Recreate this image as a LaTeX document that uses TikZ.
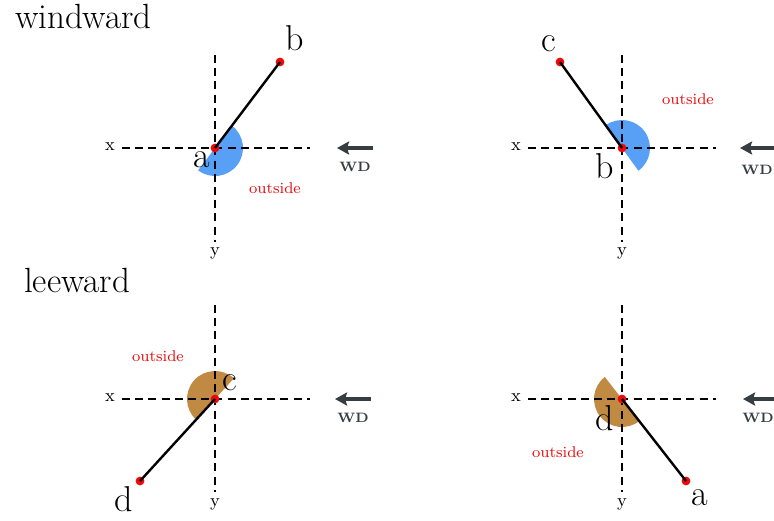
\documentclass[tikz,border=0pt]{standalone}
\usetikzlibrary{arrows.meta,positioning}
\definecolor{windblue}{RGB}{88,160,245}
\definecolor{leebrown}{RGB}{192,138,66}
\definecolor{wdgray}{RGB}{55,62,66}
\definecolor{outred}{RGB}{235,10,10}

\begin{document}
\begin{tikzpicture}[x=0.5pt,y=-0.5pt,
  dot/.style={circle,fill=outred,inner sep=0pt,minimum size=4.4pt},
  axis/.style={line width=0.7pt,dash pattern=on 4pt off 2.6pt},
  wall/.style={line width=1.2pt},
  corner/.style={font=\fontsize{18}{18}\selectfont},
  axlbl/.style={font=\fontsize{9}{9}\selectfont},
  outlbl/.style={text=outred,font=\fontsize{7.8}{8}\selectfont},
  wdlbl/.style={text=wdgray,font=\fontsize{6.8}{7}\selectfont\bfseries},
  wdarrow/.style={-{Stealth[length=6pt,width=6.5pt,inset=1pt]},draw=wdgray,line width=2pt},
  title/.style={font=\fontsize{17.5}{18}\selectfont,anchor=base west}]
  \clip (0,0) rectangle (774,520);
  % titles
  \node[title] (tw) at (8,28) {windward};
  \node[title] (tl) at (17,292) {leeward};
  % windward, wall a-b
  \fill[windblue] (215,148) -- ++(-52.9:28) arc[start angle=-52.9,end angle=127.1,radius=28] -- cycle;
  \draw[axis] (122,148) -- (310,148) (215,55) -- (215,242);
  \node[dot] (a1) at (215,148) {};
  \node[dot] (b1) at (280,62) {};
  \draw[wall] (a1.center) -- (b1.center);
  \node[corner] (la1) at (202,160) {a};
  \node[corner] (lb1) at (295,38) {b};
  \node[axlbl] (x1) at (110,147) {x};
  \node[axlbl] (y1) at (215,253) {y};
  \node[outlbl] (o1) at (275,188) {outside};
  \coordinate (w1) at (337,148);
  \draw[wdarrow] (373,148) -- (w1);
  \node[wdlbl] (wd1) at (355,167) {WD};
  % windward, wall b-c
  \fill[windblue] (622,148) -- ++(-125.8:28) arc[start angle=-125.8,end angle=54.2,radius=28] -- cycle;
  \draw[axis] (528,148) -- (716,148) (622,55) -- (622,242);
  \node[dot] (b2) at (622,148) {};
  \node[dot] (c2) at (560,62) {};
  \draw[wall] (b2.center) -- (c2.center);
  \node[corner] (lb2) at (605,166) {b};
  \node[corner] (lc2) at (549,44) {c};
  \node[axlbl] (x2) at (516,147) {x};
  \node[axlbl] (y2) at (622,253) {y};
  \node[outlbl] (o2) at (688,99) {outside};
  \coordinate (w2) at (740,148);
  \draw[wdarrow] (780,148) -- (w2);
  \node[wdlbl] (wd2) at (757,170) {WD};
  % leeward, wall c-d
  \fill[leebrown] (215,399) -- ++(-47.6:28) arc[start angle=-47.6,end angle=-227.6,radius=28] -- cycle;
  \draw[axis] (122,399) -- (310,399) (215,305) -- (215,492);
  \node[dot] (c3) at (215,399) {};
  \node[dot] (d3) at (140,481) {};
  \draw[wall] (c3.center) -- (d3.center);
  \node[corner] (lc3) at (230,383) {c};
  \node[corner] (ld3) at (124,499) {d};
  \node[axlbl] (x3) at (110,398) {x};
  \node[axlbl] (y3) at (215,504) {y};
  \node[outlbl] (o3) at (158,356) {outside};
  \coordinate (w3) at (335,399);
  \draw[wdarrow] (371,399) -- (w3);
  \node[wdlbl] (wd3) at (353,418) {WD};
  % leeward, wall d-a
  \fill[leebrown] (622,399) -- ++(-128:28) arc[start angle=-128,end angle=-308,radius=28] -- cycle;
  \draw[axis] (528,399) -- (716,399) (622,305) -- (622,492);
  \node[dot] (d4) at (622,399) {};
  \node[dot] (a4) at (686,481) {};
  \draw[wall] (d4.center) -- (a4.center);
  \node[corner] (ld4) at (605,418) {d};
  \node[corner] (la4) at (700,498) {a};
  \node[axlbl] (x4) at (516,398) {x};
  \node[axlbl] (y4) at (622,504) {y};
  \node[outlbl] (o4) at (558,452) {outside};
  \coordinate (w4) at (743,399);
  \draw[wdarrow] (780,399) -- (w4);
  \node[wdlbl] (wd4) at (758,418) {WD};
\end{tikzpicture}
\end{document}
